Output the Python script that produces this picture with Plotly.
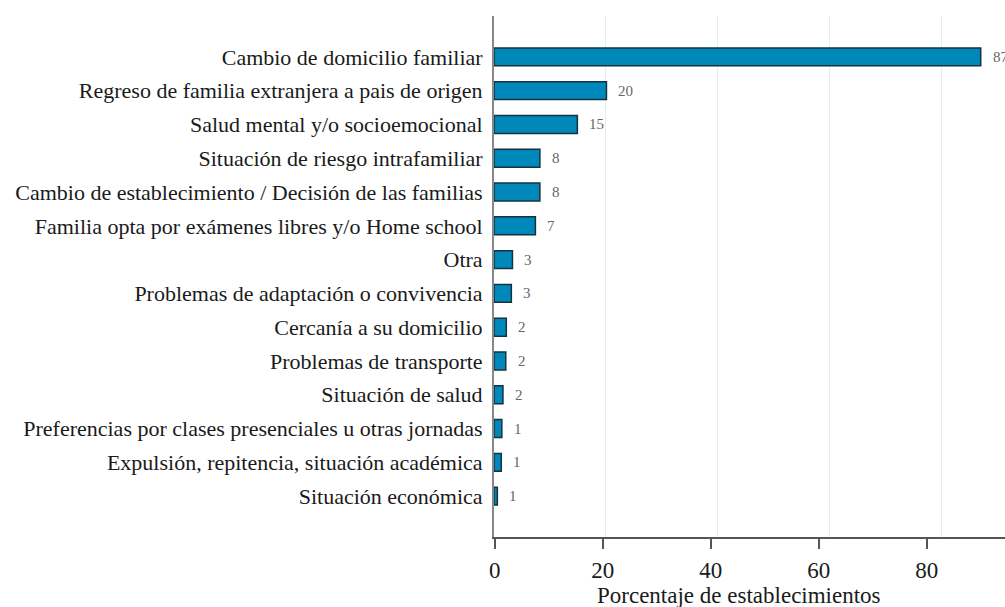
import plotly.graph_objects as go

categories = [
    "Cambio de domicilio familiar",
    "Regreso de familia extranjera a pais de origen",
    "Salud mental y/o socioemocional",
    "Situación de riesgo intrafamiliar",
    "Cambio de establecimiento / Decisión de las familias",
    "Familia opta por exámenes libres y/o Home school",
    "Otra",
    "Problemas de adaptación o convivencia",
    "Cercanía a su domicilio",
    "Problemas de transporte",
    "Situación de salud",
    "Preferencias por clases presenciales u otras jornadas",
    "Expulsión, repitencia, situación académica",
    "Situación económica",
]
values = [87.0, 20.1, 14.9, 8.2, 8.2, 7.4, 3.3, 3.1, 2.2, 2.1, 1.6, 1.4, 1.3, 0.6]
tick_values = [0, 20, 40, 60, 80]
tick_labels = ["0", "20", "40", "60", "80"]

FONT = "Liberation Serif"

fig = go.Figure()
fig.add_trace(go.Bar(
    x=values, y=categories, orientation="h",
    marker=dict(color="#0088bb", line=dict(color="#15323f", width=1.5)),
    width=0.53, showlegend=False, hoverinfo="x+y",
))
# invisible trace to activate the tick axis
fig.add_trace(go.Scatter(x=[0], y=[categories[0]], xaxis="x2", mode="markers",
                         marker=dict(opacity=0), showlegend=False, hoverinfo="skip"))

for c, v in zip(categories, values):
    fig.add_annotation(x=v, y=c, xref="x", yref="y", text=f"{v:.0f}",
                       showarrow=False, xanchor="left", xshift=10,
                       font=dict(family=FONT, size=15, color="#666666"))

plot_w = 1005 - 493.5
plot_h = 537 - 16
fig.add_annotation(xref="paper", yref="paper", x=(739 - 493.5) / plot_w,
                   y=-(595 - 537) / plot_h, yanchor="middle",
                   text="Porcentaje de establecimientos",
                   showarrow=False, font=dict(family=FONT, size=23, color="#1a1a1a"))

n = len(categories)
fig.update_layout(
    width=1005, height=607,
    margin=dict(l=493.5, r=0, t=16, b=70, pad=0, autoexpand=False),
    paper_bgcolor="white", plot_bgcolor="white",
    bargap=0.47,
    xaxis=dict(range=[0, plot_w / 5.6], tickvals=tick_values, showticklabels=False,
               showgrid=True, gridcolor="#e3ecef", gridwidth=1, zeroline=False,
               showline=False, ticks=""),
    xaxis2=dict(overlaying="x", side="bottom", range=[-0.15, -0.15 + plot_w / 5.404],
                tickvals=tick_values, ticktext=tick_labels, showgrid=False, zeroline=False,
                showline=True, linecolor="#555555", linewidth=2,
                ticks="outside", ticklen=10, tickwidth=2, tickcolor="#555555",
                ticklabelstandoff=1,
                tickfont=dict(family=FONT, size=23, color="#1a1a1a")),
    yaxis=dict(range=[n - 1 + 1.21, -1.21], showgrid=False, zeroline=False,
               showline=True, linecolor="#888888", linewidth=2, ticks="",
               ticklabelstandoff=5,
               tickfont=dict(family=FONT, size=22, color="#1a1a1a")),
)

fig.write_html(
    "out.html",
    config={"displayModeBar": False},
    post_script="document.body.style.margin='0';document.body.style.overflow='hidden';",
)
